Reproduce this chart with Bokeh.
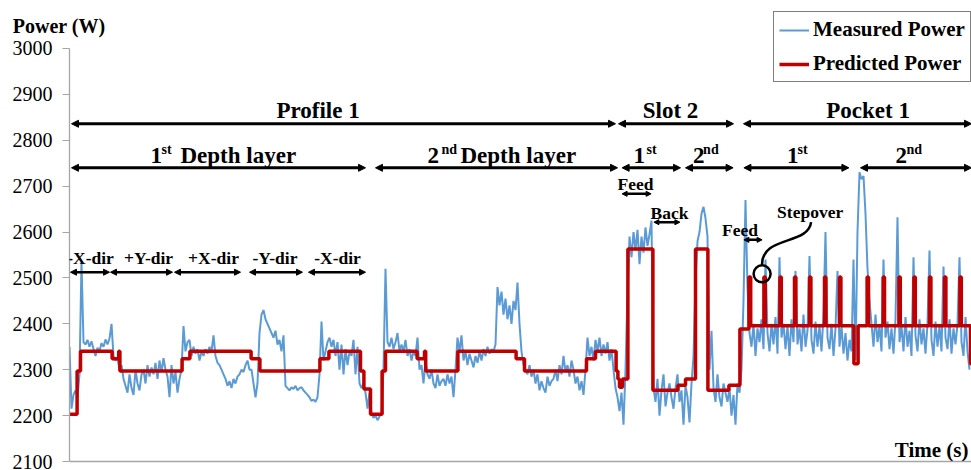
import numpy as np
from bokeh.plotting import figure
from bokeh.models import Range1d, Label, Arrow, NormalHead, Legend, LegendItem, FixedTicker, LinearAxis
from bokeh.embed import file_html
from bokeh.resources import INLINE

# Measured power (W), one sample per time step (time axis has no ticks in the original)
measured_power = [
    2350, 2215, 2245, 2255, 2240, 2290, 2535, 2360,
    2355, 2365, 2350, 2362, 2345, 2330, 2348, 2340, 2358, 2350, 2366, 2355, 2368,
    2400, 2330,
    2320, 2325, 2300, 2310, 2280, 2265,
    2250, 2290, 2260, 2245, 2300, 2270, 2255,
    2290, 2300, 2270, 2310, 2285, 2305, 2290, 2315, 2280, 2320, 2295, 2325, 2300, 2285, 2240, 2310, 2270, 2295, 2250, 2280,
    2300, 2395,
    2340, 2360, 2365, 2330, 2350, 2335, 2345, 2320, 2340, 2330, 2345, 2335, 2350, 2340, 2375, 2330,
    2315, 2310, 2300, 2290, 2280, 2265, 2275, 2260, 2280, 2270,
    2285, 2290, 2300, 2295, 2310, 2320, 2300,
    2300, 2270, 2240, 2270,
    2380, 2420, 2430, 2410,
    2400, 2390, 2380, 2370, 2385, 2355, 2365, 2340,
    2375, 2265,
    2260, 2255, 2262, 2258, 2265, 2255, 2260, 2262, 2255,
    2250, 2245, 2240, 2232, 2235, 2230, 2240,
    2290, 2405, 2320,
    2340, 2360, 2370, 2350, 2365, 2330, 2360, 2300, 2355, 2290, 2345, 2310, 2340,
    2330, 2365, 2290, 2350, 2270,
    2260, 2270, 2250, 2215, 2250,
    2205, 2195, 2200, 2190, 2198, 2205,
    2300, 2520, 2360,
    2350, 2370, 2345, 2360, 2380, 2340, 2355, 2340, 2365, 2330, 2345,
    2320, 2340, 2330, 2370, 2300,
    2310, 2270, 2320, 2290, 2280, 2300, 2270, 2260, 2290, 2265, 2275,
    2280, 2265, 2290, 2270, 2285, 2240, 2300,
    2370, 2340, 2375,
    2320, 2340, 2310, 2335, 2320, 2305, 2330, 2315, 2340, 2320, 2345, 2330, 2350, 2335, 2345,
    2340, 2355,
    2480,
    2440, 2470, 2420, 2455, 2410, 2440, 2400, 2450, 2430, 2490,
    2400, 2340, 2310, 2300,
    2290, 2310, 2285, 2300, 2270, 2290, 2255, 2275, 2260, 2250, 2285, 2265, 2275,
    2280, 2300, 2275, 2310, 2290, 2330, 2295, 2310, 2285, 2320, 2300,
    2270, 2285, 2255, 2275, 2245,
    2300, 2370,
    2330, 2350, 2320, 2365, 2340, 2370, 2330, 2355, 2335, 2360, 2320, 2345,
    2300, 2260, 2240, 2210, 2250,
    2180, 2300, 2470,
    2590, 2545, 2600, 2560, 2605, 2530, 2590, 2555, 2610, 2570, 2595, 2625,
    2260, 2230, 2280, 2200, 2255, 2290, 2220, 2250, 2270,
    2240, 2215, 2260, 2290, 2230, 2255, 2180, 2265, 2240, 2185,
    2270, 2330, 2490,
    2580, 2600, 2640, 2655, 2630, 2590,
    2300, 2385,
    2260, 2230, 2290, 2240, 2220, 2270, 2250, 2230, 2260, 2200, 2245, 2180, 2270,
    2250, 2300, 2450, 2670, 2480, 2380,
    2350, 2400, 2330, 2390, 2360, 2410, 2345,
    2540,
    2380, 2340, 2400, 2355, 2415, 2335,
    2545,
    2370, 2400, 2345, 2395, 2330, 2410, 2360,
    2515,
    2355, 2390, 2340, 2420, 2350, 2385,
    2548,
    2365, 2335, 2405, 2350, 2395, 2340, 2420,
    2600,
    2370, 2345, 2400, 2330, 2390,
    2515,
    2350, 2395, 2335, 2380, 2320, 2365, 2340,
    2540,
    2320,
    2600, 2730, 2715, 2722, 2640, 2520, 2450,
    2400, 2350, 2420, 2360, 2395, 2340,
    2540,
    2370, 2405, 2345, 2390, 2335, 2410,
    2632,
    2360, 2395, 2340, 2415, 2350, 2385, 2330,
    2545,
    2375, 2340, 2410, 2355, 2390, 2335, 2400,
    2560,
    2365, 2330, 2405, 2350, 2395, 2340,
    2525,
    2370, 2345, 2410, 2335, 2390, 2355, 2400,
    2545,
    2360, 2330, 2415, 2340, 2300,
]
measured_time = np.arange(len(measured_power))

# Predicted power: step function (time of change, new level)
pred_time = [0, 3.8, 5.5, 21.3, 24.6, 25.2, 56.3, 60.2, 90.8, 95.2,
             125.2, 129.7, 145.5, 147.2, 150.5, 156.3, 158, 173.8, 177.5, 178.1,
             194.2, 223.3, 227.5, 258.5, 263, 273.3, 274.2, 275, 276.5, 279.2,
             291.7, 304.2, 308, 313, 319.2, 329.7, 335.2,
             339.7, 340.6, 347.2, 347.9, 355.2, 355.9, 362.5, 363.2, 370, 370.7,
             377.5, 378.2, 385, 385.7, 392.2, 394.3, 398.8, 399.5, 406.8, 407.5,
             414.7, 415.4, 422.2, 422.9, 430, 430.7, 437.5, 438.2, 445.2, 445.9,
             450.5, 451]
pred_power = [2203, 2297, 2340, 2324, 2340, 2297, 2324, 2340, 2324, 2297,
              2324, 2340, 2297, 2258, 2203, 2297, 2340, 2324, 2340, 2297,
              2340, 2324, 2297, 2324, 2340, 2297, 2280, 2262, 2280, 2563,
              2255, 2266, 2280, 2563, 2255, 2266, 2389,
              2502, 2396, 2502, 2396, 2502, 2396, 2502, 2396, 2502, 2396,
              2502, 2396, 2502, 2396, 2313, 2396, 2502, 2396, 2502, 2396,
              2502, 2396, 2502, 2396, 2502, 2396, 2502, 2396, 2502, 2396,
              2313, 2313]

y_ticks = [2100, 2200, 2300, 2400, 2500, 2600, 2700, 2800, 2900, 3000]

SERIF = "Liberation Serif"
AXIS_GRAY = "#a6a6a6"

p = figure(width=971, height=470, x_range=Range1d(0, 451), y_range=Range1d(2100, 3104.6),
           output_backend="svg", toolbar_location=None,
           min_border_left=69, min_border_right=0, min_border_top=0, min_border_bottom=9)
p.background_fill_color = "white"
p.border_fill_color = "white"
p.outline_line_color = None
p.grid.visible = False

p.xaxis.ticker = FixedTicker(ticks=[])
p.xaxis.major_tick_out = 0
p.xaxis.major_tick_in = 0
p.xaxis.minor_tick_out = 0
p.xaxis.minor_tick_in = 0
p.xaxis.major_label_standoff = 0
p.xaxis.major_label_text_font_size = "0px"
p.xaxis.axis_line_color = AXIS_GRAY
p.xaxis.axis_line_width = 1.3

p.yaxis.ticker = FixedTicker(ticks=y_ticks)
p.yaxis.bounds = (2100, 3000)
p.yaxis.major_tick_out = 7
p.yaxis.major_tick_in = 0
p.yaxis.minor_tick_line_color = None
p.yaxis.major_label_standoff = 10
p.yaxis.major_label_text_font = SERIF
p.yaxis.major_label_text_font_size = "20px"
p.yaxis.major_label_text_color = "black"
p.yaxis.axis_line_color = AXIS_GRAY
p.yaxis.major_tick_line_color = AXIS_GRAY
p.yaxis.axis_line_width = 1.3

# y-axis title written above the axis, as in the original
title_axis = LinearAxis(ticker=FixedTicker(ticks=[3050]),
                        major_label_overrides={3050: "Power (W)", "3050": "Power (W)"},
                        axis_line_color=None, major_tick_line_color=None, minor_tick_line_color=None,
                        major_tick_out=0, major_tick_in=0, minor_tick_out=0, minor_tick_in=0,
                        major_label_standoff=-96, major_label_text_font=SERIF,
                        major_label_text_font_style="bold", major_label_text_font_size="20px",
                        major_label_text_color="black")
p.add_layout(title_axis, "left")

r_meas = p.line(measured_time, measured_power, line_color="#5B9BD5", line_width=2)
r_pred = p.step(pred_time, pred_power, mode="after", line_color="#C00000", line_width=3.5)

legend = Legend(items=[LegendItem(label="Measured Power", renderers=[r_meas]),
                       LegendItem(label="Predicted Power", renderers=[r_pred])],
                location=(704, 379), orientation="vertical",
                border_line_color="black", border_line_width=1.2,
                background_fill_color="white", background_fill_alpha=1,
                padding=5, spacing=9, margin=0, glyph_width=30, glyph_height=20,
                label_standoff=4, label_text_font=SERIF, label_text_font_style="bold",
                label_text_font_size="21px", label_text_color="black")
p.add_layout(legend, "center")


def text(x, y, s, size="23px", align="center"):
    p.add_layout(Label(x=x, y=y, text=s, text_font=SERIF, text_font_style="bold",
                       text_font_size=size, text_align=align, text_baseline="middle",
                       text_color="black"))


def arrow(x0, x1, y, width=3, size=7):
    p.add_layout(Arrow(x_start=x0, y_start=y, x_end=x1, y_end=y,
                       line_color="black", line_width=width,
                       start=NormalHead(size=size, fill_color="black", line_color="black", line_width=1),
                       end=NormalHead(size=size, fill_color="black", line_color="black", line_width=1)))


# Row 1: operations
text(124.3, 2864, "Profile 1")
text(300.5, 2864, "Slot 2")
text(399.3, 2864, "Pocket 1")
arrow(1, 273, 2836)
arrow(274.5, 332, 2836)
arrow(337, 451, 2836)

# Row 2: depth layers
ROW2, SUP = 2766, 2779
text(40.5, ROW2, "1", align="left")
text(46, SUP, "st", size="14px", align="left")
text(55.5, ROW2, "Depth layer", align="left")
text(179, ROW2, "2", align="left")
text(186, SUP, "nd", size="14px", align="left")
text(195.5, ROW2, "Depth layer", align="left")
text(282, ROW2, "1", align="left")
text(288.5, SUP, "st", size="14px", align="left")
text(311.8, ROW2, "2", align="left")
text(316.8, SUP, "nd", size="14px", align="left")
text(358.8, ROW2, "1", align="left")
text(364, SUP, "st", size="14px", align="left")
text(413, ROW2, "2", align="left")
text(418.5, SUP, "nd", size="14px", align="left")
arrow(1, 148, 2740)
arrow(153, 274, 2740)
arrow(276.3, 305.5, 2740)
arrow(308, 331.8, 2740)
arrow(337.2, 389.7, 2740)
arrow(395.5, 451, 2740)

# Row 3: directions
for cx, s in [(10.5, "-X-dir"), (39.5, "+Y-dir"), (72, "+X-dir"), (102.7, "-Y-dir"), (134, "-X-dir")]:
    text(cx, 2543.7, s, size="17.5px")
for a, b in [(0.5, 20), (20.5, 51.5), (52.5, 85.5), (90, 116.5), (119.5, 148)]:
    arrow(a, b, 2512.5, width=2.5, size=6)

# Slot / pocket details
text(274, 2705, "Feed", size="17.5px", align="left")
arrow(276.3, 290.8, 2683.3, width=2.5, size=5)
text(290.5, 2641.7, "Back", size="17.5px", align="left")
arrow(292.2, 305.2, 2621.5, width=2.5, size=5)
text(326.3, 2605.3, "Feed", size="17.5px", align="left")
arrow(337.2, 346.3, 2583, width=2.5, size=5)
text(353.8, 2643.9, "Stepover", size="17.5px", align="left")
p.bezier(x0=[370.8], y0=[2621.5], x1=[346.3], y1=[2527.1],
         cx0=[369.5], cy0=[2570.7], cx1=[345.5], cy1=[2592.5],
         line_color="black", line_width=2.5)
p.scatter(x=[346.3], y=[2509], marker="circle", size=17, fill_color=None,
          line_color="black", line_width=2.5)

# x-axis title
text(449.5, 2124.8, "Time (s)", size="21px", align="right")

open("out.html", "w").write(file_html(p, INLINE))
